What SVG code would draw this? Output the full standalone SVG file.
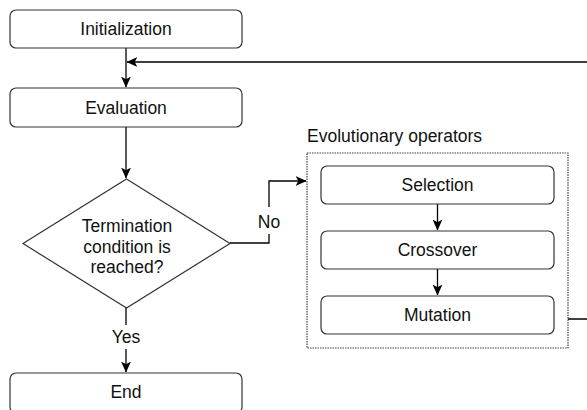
<svg xmlns="http://www.w3.org/2000/svg" width="587" height="410" viewBox="0 0 587 410">
<defs>
<marker id="arr" viewBox="0 0 10 10" refX="9.5" refY="5" markerWidth="11" markerHeight="11" markerUnits="userSpaceOnUse" orient="auto">
<path d="M0,0.5 L10,5 L0,9.5 L2.5,5 Z" fill="#000"/>
</marker>
<style>
.box{fill:#fff;stroke:#333;stroke-width:1.2}
.t{font-family:"Liberation Sans",Arial,sans-serif;font-size:17.5px;fill:#111;text-anchor:middle}
.c{fill:none;stroke:#000;stroke-width:1.3}
.lbl{fill:#fff;stroke:none}
</style>
</defs>
<rect width="587" height="410" fill="#fff"/>
<g id="group-operators">
<rect x="307" y="153" width="261" height="195" fill="none" stroke="#444" stroke-width="1.2" stroke-dasharray="1.5 1"/>
<text class="t" x="307" y="142" style="text-anchor:start">Evolutionary operators</text>
</g>
<g id="connectors">
<path class="c" marker-end="url(#arr)" d="M126,48 V87"/>
<path class="c" stroke="#444" marker-end="url(#arr)" d="M568,319 H600 V62 H127"/>
<path class="c" marker-end="url(#arr)" d="M126,127 V178"/>
<path class="c" marker-end="url(#arr)" d="M230,243 H269 V181 H306"/>
<path class="c" marker-end="url(#arr)" d="M126,308 V372"/>
<path class="c" marker-end="url(#arr)" d="M437.5,204 V230"/>
<path class="c" marker-end="url(#arr)" d="M437.5,269 V295"/>
<rect class="lbl" x="257" y="207" width="24" height="27"/>
<text class="t" x="269" y="228">No</text>
<rect class="lbl" x="110" y="325" width="32" height="24"/>
<text class="t" x="126" y="343">Yes</text>
</g>
<g id="node-init">
<rect class="box" x="10" y="10" width="232" height="38" rx="6"/>
<text class="t" x="126" y="35">Initialization</text>
</g>
<g id="node-eval">
<rect class="box" x="10" y="88" width="232" height="39" rx="6"/>
<text class="t" x="126" y="113.5">Evaluation</text>
</g>
<g id="node-term">
<polygon class="box" points="126.5,179 230,243.5 126.5,308 23,243.5"/>
<text class="t" x="127" y="232">Termination</text>
<text class="t" x="127" y="253">condition is</text>
<text class="t" x="127" y="273">reached?</text>
</g>
<g id="node-end">
<rect class="box" x="10" y="373" width="232" height="40" rx="6"/>
<text class="t" x="126" y="398">End</text>
</g>
<g id="node-selection">
<rect class="box" x="321" y="166" width="233" height="38" rx="6"/>
<text class="t" x="437.5" y="191">Selection</text>
</g>
<g id="node-crossover">
<rect class="box" x="321" y="231" width="233" height="38" rx="6"/>
<text class="t" x="437.5" y="256">Crossover</text>
</g>
<g id="node-mutation">
<rect class="box" x="321" y="296" width="233" height="38" rx="6"/>
<text class="t" x="437.5" y="321">Mutation</text>
</g>
</svg>
